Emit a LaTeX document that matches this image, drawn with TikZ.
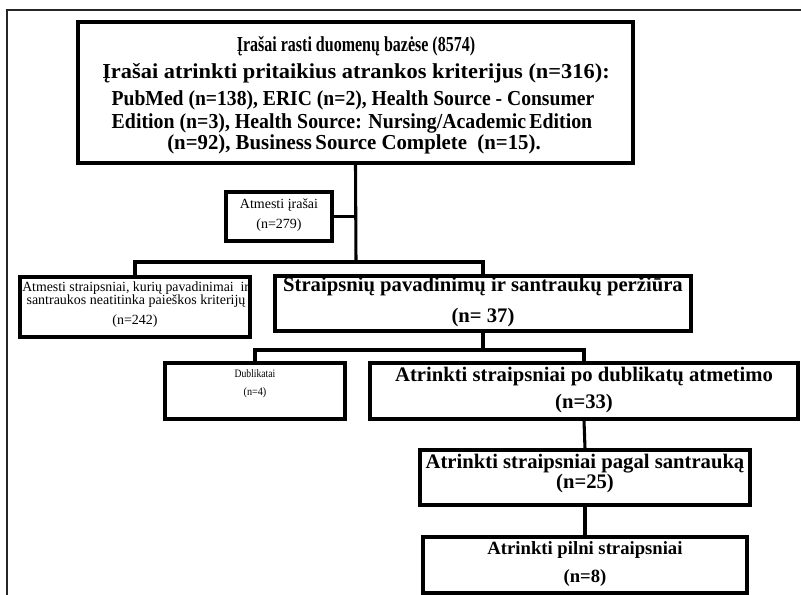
\documentclass[tikz,border=0pt]{standalone}
\usepackage{fontspec}
\setmainfont{Liberation Serif}
\newfontfamily\topfont{Liberation Serif}
\usetikzlibrary{fit}
\begin{document}
\begin{tikzpicture}[x=0.75pt,y=-0.75pt,
  box/.style={draw=black, line width=2.3pt, inner sep=0pt},
  conn/.style={draw=black, line width=2.3pt},
  frameline/.style={draw=black!85, line width=0.8pt},
  txt/.style={inner sep=0pt, anchor=base},
  topt/.style={txt, font=\topfont\bfseries\fontsize{16}{18}\selectfont},
  bigt/.style={txt, font=\bfseries\fontsize{15.5}{17}\selectfont},
  smallt/.style={txt, font=\fontsize{10.5}{12}\selectfont}]
\useasboundingbox (0,0) rectangle (801,595);
% partial outer frame
\coordinate (fa) at (7,595);
\coordinate (fb) at (7,10);
\coordinate (fc) at (801,10);
\draw[frameline] (fa) -- (fb) -- (fc);

% boxes
\node[box, line width=2.8pt, fit={(78,22) (633,163)}] (top) {};
\node[box, fit={(226,192) (332,241)}] (atm) {};
\node[box, fit={(20,277) (250,337)}] (lft) {};
\node[box, fit={(275,276) (691,331)}] (str) {};
\node[box, fit={(165,363) (345,419)}] (dub) {};
\node[box, fit={(370,363) (798,419)}] (atr) {};
\node[box, fit={(420,450) (750,505)}] (pag) {};
\node[box, fit={(423,537) (747,593)}] (pil) {};

% texts
\node[topt] (t1) at (356,52) {\scalebox{0.75}[1]{Įrašai rasti duomenų bazėse (8574)}};
\node[topt] (t2) at (356,79) {\scalebox{1.05}[1]{Įrašai atrinkti pritaikius atrankos kriterijus (n=316):}};
\node[topt] (t3) at (353,106) {\scalebox{0.92}[1]{PubMed (n=138), ERIC (n=2), Health Source - Consumer}};
\node[topt] (t4) at (352,129) {\scalebox{0.93}[1]{Edition (n=3), Health Source: Nursing/Academic\,Edition}};
\node[topt] (t5) at (354,150) {\scalebox{0.975}[1]{(n=92), Business\,Source Complete \ (n=15).}};

\node[smallt] (a1) at (279,209) {Atmesti įrašai};
\node[smallt] (a2) at (279,229) {(n=279)};

\begin{scope}
\clip (20,277) rectangle (250,337);
\node[smallt, anchor=base west] (l1) at (22,292) {\scalebox{0.985}[1]{Atmesti straipsniai, kurių pavadinimai \ ir}};
\end{scope}
\node[smallt] (l2) at (136,305) {santraukos neatitinka paieškos kriterijų};
\node[smallt] (l3) at (135,325) {(n=242)};

\node[bigt] (s1) at (483,292) {Straipsnių pavadinimų ir santraukų peržiūra};
\node[bigt] (s2) at (483,323) {(n= 37)};

\node[txt, font=\fontsize{8.5}{10}\selectfont] (d1) at (255,378) {\scalebox{0.85}[1]{Dublikatai}};
\node[txt, font=\fontsize{8.5}{10}\selectfont] (d2) at (255,396) {\scalebox{0.9}[1]{(n=4)}};

\node[bigt] (r1) at (584,382) {Atrinkti straipsniai po dublikatų atmetimo};
\node[bigt] (r2) at (584,409) {(n=33)};

\node[bigt] (p1) at (585,469) {Atrinkti straipsniai pagal santrauką};
\node[bigt] (p2) at (585,489) {(n=25)};

\node[bigt, font=\bfseries\fontsize{14}{16}\selectfont] (q1) at (585,555) {Atrinkti pilni straipsniai};
\node[bigt, font=\bfseries\fontsize{14}{16}\selectfont] (q2) at (585,583) {(n=8)};

% connectors
\coordinate (j1) at (356,262);
\coordinate (j2) at (483,350);
\draw[conn] (top.south) -- (j1);
\draw[conn] (atm.east) -- (atm.east -| j1);
\draw[conn] (lft.north) |- (j1) -| (str.north);
\draw[conn] (str.south) -- (j2);
\draw[conn] (dub.north) |- (j2) -| (atr.north);
\draw[conn] (atr.south) -- (pag.north);
\draw[conn] (pag.south) -- (pil.north);
\end{tikzpicture}
\end{document}
